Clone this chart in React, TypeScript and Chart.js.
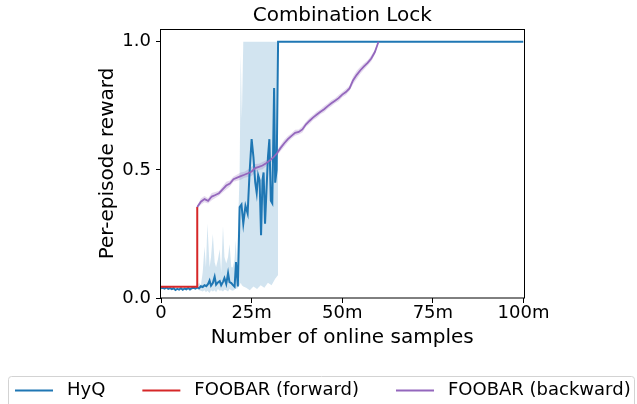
import { useEffect, useRef } from 'react';
import { Chart, registerables } from 'chart.js';

Chart.register(...registerables);

const titleText = 'Combination Lock';
const xAxisTitle = 'Number of online samples';
const yAxisTitle = 'Per-episode reward';
const xTickValues = [0, 25, 50, 75, 100];
const xTickLabels = ['0', '25m', '50m', '75m', '100m'];
const yTickValues = [0, 0.5, 1.0];
const yTickLabels = ['0.0', '0.5', '1.0'];
const seriesNames = ['HyQ', 'FOOBAR (forward)', 'FOOBAR (backward)'];
const seriesColors = ['#1f77b4', '#d62728', '#9467bd'];

// HyQ mean curve (x in millions of samples)
const hyqX = [0, 0.5, 1, 1.5, 2, 2.5, 3, 3.5, 4, 4.5, 5, 5.5, 6, 6.5, 7, 7.5, 8, 8.5, 9, 9.5,
  10, 10.5, 11, 11.5, 12, 12.5, 13, 13.4, 13.8, 14.3, 14.8, 15.2, 15.7, 16.2, 16.6, 17.1, 17.5, 18, 18.5, 18.9,
  19.4, 19.8, 20.3, 20.7, 21.2, 21.7, 22.2, 22.7, 23.3, 23.9, 24.4, 25.0, 25.5, 26.0, 26.4, 26.8, 27.2, 27.6, 28.0, 28.3,
  28.7, 29.1, 29.5, 29.9, 30.3, 30.7, 31.2, 31.5, 31.9, 32.3, 100];
const hyqY = [0.038, 0.040, 0.037, 0.041, 0.036, 0.039, 0.035, 0.038, 0.031, 0.036, 0.033, 0.038, 0.032, 0.037, 0.034, 0.039, 0.033, 0.038, 0.040, 0.037,
  0.041, 0.038, 0.046, 0.043, 0.050, 0.046, 0.055, 0.068, 0.048, 0.058, 0.083, 0.052, 0.061, 0.066, 0.050, 0.063, 0.078, 0.055, 0.097, 0.062,
  0.058, 0.051, 0.044, 0.140, 0.045, 0.355, 0.365, 0.290, 0.360, 0.330, 0.480, 0.620, 0.550, 0.450, 0.410, 0.480, 0.460, 0.245, 0.460, 0.490,
  0.290, 0.420, 0.550, 0.620, 0.380, 0.370, 0.820, 0.450, 0.500, 1.0, 1.0];

// HyQ spread band
const hyqBandX = [10, 10.5, 11, 11.5, 12, 12.4, 12.8, 13.4, 13.8, 14.3, 14.8, 15.2, 15.7, 16.2, 16.6, 17.1, 17.5, 18, 18.5, 18.9,
  19.4, 19.8, 20.3, 20.6, 21.0, 21.3, 21.7, 22.0, 22.3, 22.7, 23.5, 24.5, 25.5, 26.5, 27.5, 28.5, 29.5, 30.5, 31.5, 32.3];
const hyqBandHigh = [0.045, 0.06, 0.05, 0.10, 0.20, 0.12, 0.29, 0.12, 0.16, 0.25, 0.14, 0.12, 0.15, 0.19, 0.10, 0.28, 0.16, 0.135, 0.16, 0.21,
  0.12, 0.12, 0.15, 0.225, 0.12, 0.30, 0.50, 0.95, 0.70, 1.0, 1.0, 1.0, 1.0, 1.0, 1.0, 1.0, 1.0, 1.0, 1.0, 1.0];
const hyqBandLow = [0.035, 0.030, 0.028, 0.025, 0.030, 0.022, 0.028, 0.020, 0.030, 0.025, 0.030, 0.022, 0.035, 0.028, 0.030, 0.025, 0.032, 0.030, 0.025, 0.035,
  0.030, 0.028, 0.032, 0.040, 0.035, 0.045, 0.050, 0.060, 0.050, 0.045, 0.040, 0.030, 0.045, 0.035, 0.050, 0.040, 0.060, 0.050, 0.075, 0.090];

// FOOBAR (forward)
const fwdX = [0, 10, 10];
const fwdY = [0.044, 0.044, 0.355];

// FOOBAR (backward)
const bwdX = [10, 11, 12, 13, 14, 15, 16, 17, 18, 19, 20, 21, 22, 23, 24, 25, 26, 27, 28, 29,
  30, 31, 32, 33, 34, 35, 36, 37, 38, 39, 40, 41, 42, 43, 44, 45, 46, 47, 48, 49,
  50, 51, 52, 53, 54, 55, 56, 57, 58, 59, 60];
const bwdY = [0.355, 0.376, 0.386, 0.379, 0.396, 0.402, 0.409, 0.424, 0.439, 0.447, 0.464, 0.470, 0.476, 0.481, 0.487, 0.494, 0.507, 0.512, 0.517, 0.526,
  0.537, 0.549, 0.565, 0.586, 0.604, 0.620, 0.633, 0.645, 0.648, 0.658, 0.678, 0.692, 0.705, 0.716, 0.727, 0.737, 0.749, 0.760, 0.770, 0.780,
  0.794, 0.804, 0.818, 0.850, 0.871, 0.889, 0.904, 0.918, 0.935, 0.960, 1.0];
const bwdSpread = [0.005, 0.012, 0.012, 0.010, 0.014, 0.012, 0.010, 0.012, 0.015, 0.012, 0.010, 0.012, 0.014, 0.012, 0.015, 0.018, 0.016, 0.012, 0.014, 0.012,
  0.010, 0.012, 0.010, 0.012, 0.014, 0.012, 0.010, 0.012, 0.010, 0.012, 0.010, 0.012, 0.010, 0.012, 0.010, 0.012, 0.010, 0.012, 0.010, 0.012,
  0.010, 0.012, 0.010, 0.015, 0.016, 0.014, 0.012, 0.010, 0.012, 0.010, 0.004];

const FONT = '"DejaVu Sans", sans-serif';

const pts = (xs: number[], ys: number[]) => xs.map((x, i) => ({ x, y: ys[i] }));

const framePlugin = {
  id: 'frame',
  afterDatasetsDraw(chart: any) {
    const { ctx, chartArea: a } = chart;
    ctx.save();
    ctx.strokeStyle = '#000';
    ctx.lineWidth = 1;
    ctx.strokeRect(Math.round(a.left) - 0.5, Math.round(a.top) + 0.5, Math.round(a.right - a.left) + 1, Math.round(a.bottom - a.top) - 0.5);
    ctx.restore();
  },
};

const titlePlugin = {
  id: 'axesTitle',
  afterDraw(chart: any) {
    const { ctx, chartArea: a } = chart;
    ctx.save();
    ctx.font = `20px ${FONT}`;
    ctx.fillStyle = '#000';
    ctx.textAlign = 'center';
    ctx.textBaseline = 'alphabetic';
    ctx.fillText(titleText, (a.left + a.right) / 2, a.top - 8);
    ctx.restore();
  },
};

const legendPlugin = {
  id: 'mplLegend',
  afterDraw(chart: any) {
    const ctx = chart.ctx;
    ctx.save();
    ctx.fillStyle = 'rgba(255,255,255,0.8)';
    ctx.strokeStyle = '#d3d3d3';
    ctx.lineWidth = 1;
    ctx.beginPath();
    (ctx as any).roundRect(8.5, 376.5, 626, 40, 3);
    ctx.fill();
    ctx.stroke();
    ctx.font = `18px ${FONT}`;
    ctx.textBaseline = 'middle';
    ctx.textAlign = 'left';
    const y = 390;
    let x = 15;
    seriesNames.forEach((name, i) => {
      ctx.strokeStyle = seriesColors[i];
      ctx.lineWidth = 2;
      ctx.beginPath();
      ctx.moveTo(x, y + 0.5);
      ctx.lineTo(x + 38, y + 0.5);
      ctx.stroke();
      x += 38 + 14;
      ctx.fillStyle = '#000';
      ctx.fillText(name, x, y);
      x += ctx.measureText(name).width + 37;
    });
    ctx.restore();
  },
};

export default function App() {
  const ref = useRef<HTMLCanvasElement>(null);

  useEffect(() => {
    if (!ref.current) return;
    Chart.defaults.font.family = FONT;
    Chart.defaults.color = '#000';

    const bwdLow = bwdY.map((v, i) => v - bwdSpread[i]);
    const bwdHigh = bwdY.map((v, i) => v + bwdSpread[i]);

    const lineBase = { pointRadius: 0, pointHoverRadius: 0, tension: 0, fill: false };

    const chart = new Chart(ref.current, {
      type: 'line',
      data: {
        datasets: [
          { ...lineBase, label: seriesNames[2], data: pts(bwdX, bwdY), borderColor: seriesColors[2], borderWidth: 1.8 },
          { ...lineBase, label: seriesNames[1], data: pts(fwdX, fwdY), borderColor: seriesColors[1], borderWidth: 2 },
          { ...lineBase, label: seriesNames[0], data: pts(hyqX, hyqY), borderColor: seriesColors[0], borderWidth: 2 },
          { ...lineBase, label: 'bwd-low', data: pts(bwdX, bwdLow), borderWidth: 0, borderColor: 'rgba(0,0,0,0)' },
          { ...lineBase, label: 'bwd-high', data: pts(bwdX, bwdHigh), borderWidth: 0, borderColor: 'rgba(0,0,0,0)', fill: '-1', backgroundColor: 'rgba(148,103,189,0.25)' },
          { ...lineBase, label: 'hyq-low', data: pts(hyqBandX, hyqBandLow), borderWidth: 0, borderColor: 'rgba(0,0,0,0)' },
          { ...lineBase, label: 'hyq-high', data: pts(hyqBandX, hyqBandHigh), borderWidth: 0, borderColor: 'rgba(0,0,0,0)', fill: '-1', backgroundColor: 'rgba(31,119,180,0.2)' },
        ] as any,
      },
      options: {
        animation: false,
        responsive: false,
        devicePixelRatio: 1,
        events: [],
        layout: { padding: { left: 90, right: 113.5, top: 29, bottom: 44 } },
        plugins: {
          legend: { display: false },
          tooltip: { enabled: false },
          title: { display: false },
        },
        scales: {
          x: {
            type: 'linear',
            min: 0,
            max: 100,
            afterBuildTicks: (s: any) => { s.ticks = xTickValues.map((v) => ({ value: v })); },
            afterFit: (s: any) => { s.height = 62; },
            ticks: {
              autoSkip: false,
              maxRotation: 0,
              padding: 0,
              color: '#000',
              font: { family: FONT, size: 18 },
              callback: (_v: any, i: number) => xTickLabels[i],
            },
            grid: { display: true, drawOnChartArea: false, drawTicks: true, tickLength: 5, tickColor: '#000', tickWidth: 1 },
            border: { display: false },
            title: { display: true, text: xAxisTitle, color: '#000', font: { family: FONT, size: 20 }, padding: { top: 0, bottom: 10 } },
          },
          y: {
            type: 'linear',
            min: 0,
            max: 1.05,
            afterBuildTicks: (s: any) => { s.ticks = yTickValues.map((v) => ({ value: v })); },
            afterFit: (s: any) => { s.width = 71; },
            ticks: {
              autoSkip: false,
              padding: 5,
              color: '#000',
              font: { family: FONT, size: 18 },
              callback: (_v: any, i: number) => yTickLabels[i],
            },
            grid: { display: true, drawOnChartArea: false, drawTicks: true, tickLength: 5, tickColor: '#000', tickWidth: 1 },
            border: { display: false },
            title: { display: true, text: yAxisTitle, color: '#000', font: { family: FONT, size: 20 }, padding: { top: 6, bottom: 0 } },
          },
        },
      } as any,
      plugins: [framePlugin, titlePlugin, legendPlugin],
    });
    return () => chart.destroy();
  }, []);

  return (
    <div style={{ position: 'fixed', left: 0, top: 0, width: 637, height: 404, background: '#fff' }}>
      <canvas ref={ref} width={637} height={404} style={{ display: 'block', width: 637, height: 404 }} />
    </div>
  );
}
